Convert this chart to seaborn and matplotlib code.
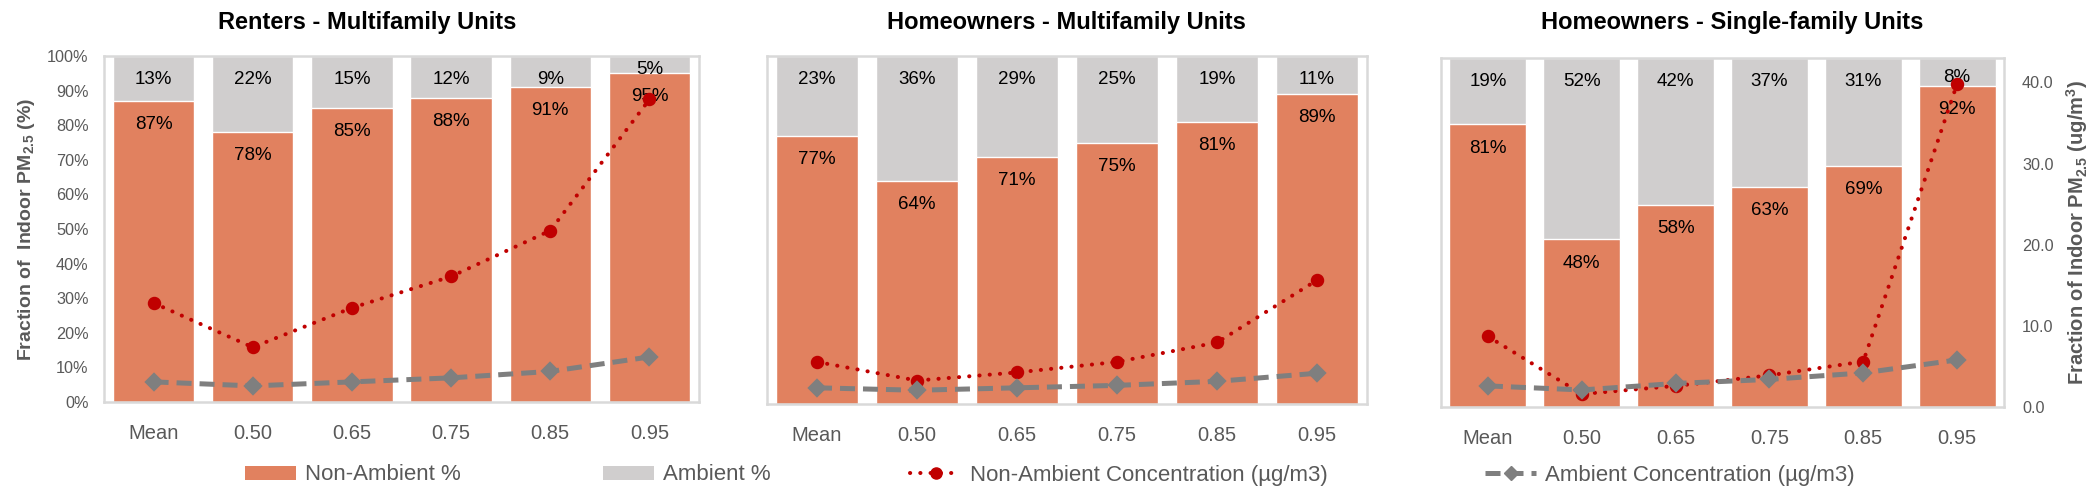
import numpy as np
import pandas as pd
import matplotlib
matplotlib.use("Agg")
import matplotlib.pyplot as plt
from matplotlib.patches import Patch
from matplotlib.lines import Line2D
import seaborn as sns

# ---- data ----
quantiles = ["Mean", "0.50", "0.65", "0.75", "0.85", "0.95"]
titles = ["Renters - Multifamily Units",
          "Homeowners - Multifamily Units",
          "Homeowners - Single-family Units"]

renters_mf_nonamb = [87, 78, 85, 88, 91, 95]
renters_mf_amb = [13, 22, 15, 12, 9, 5]
renters_mf_nonamb_conc = [12.3, 6.8, 11.7, 15.6, 21.3, 37.6]
renters_mf_amb_conc = [2.5, 2.0, 2.5, 3.0, 3.8, 5.6]

owners_mf_nonamb = [77, 64, 71, 75, 81, 89]
owners_mf_amb = [23, 36, 29, 25, 19, 11]
owners_mf_nonamb_conc = [5.2, 2.9, 3.9, 5.2, 7.6, 15.3]
owners_mf_amb_conc = [2.0, 1.7, 2.0, 2.3, 2.8, 3.8]

owners_sf_nonamb = [81, 48, 58, 63, 69, 92]
owners_sf_amb = [19, 52, 42, 37, 31, 8]
owners_sf_nonamb_conc = [8.7, 1.6, 2.6, 3.9, 5.6, 39.8]
owners_sf_amb_conc = [2.6, 2.1, 2.9, 3.4, 4.2, 5.8]

panels = [
    (renters_mf_nonamb, renters_mf_amb, renters_mf_nonamb_conc, renters_mf_amb_conc),
    (owners_mf_nonamb, owners_mf_amb, owners_mf_nonamb_conc, owners_mf_amb_conc),
    (owners_sf_nonamb, owners_sf_amb, owners_sf_nonamb_conc, owners_sf_amb_conc),
]

ORANGE = "#E1815F"
GRAY = "#D0CECE"
RED = "#C00000"
DGRAY = "#7F7F7F"
FRAME = "#D9D9D9"
TXT = "#595959"

RED_DASH = (0.05, 2.5)
GRAY_DASH = (3.0, 1.6)

sns.set_style("white")
plt.rcParams["font.family"] = ["Liberation Sans", "DejaVu Sans"]
plt.rcParams["mathtext.default"] = "regular"

fig = plt.figure(figsize=(21, 4.96), dpi=100)

# axes boxes in pixels: left, top, right, bottom
boxes = [(104, 56, 699, 402), (767, 56, 1367, 404), (1441, 58, 2004, 407)]
title_x = [367, 1066, 1732]
W, H = 2100, 496

for i, (nonamb, amb, nonamb_conc, amb_conc) in enumerate(panels):
    l, t, r, b = boxes[i]
    ax = fig.add_axes([l / W, 1 - b / H, (r - l) / W, (b - t) / H])
    df = pd.DataFrame({"q": quantiles, "nonamb": nonamb, "amb": amb,
                       "total": np.array(nonamb) + np.array(amb)})

    sns.barplot(data=df, x="q", y="total", color=GRAY, width=0.82,
                saturation=1, ax=ax)
    sns.barplot(data=df, x="q", y="nonamb", color=ORANGE, width=0.82,
                saturation=1, ax=ax)

    # value labels
    for j, (na, a) in enumerate(zip(nonamb, amb)):
        top = na + a
        ya = top - 6.8 if a >= 9 else top - a / 2 - 1.5
        ax.text(j, ya, f"{a}%", ha="center", va="center", fontsize=13.5, color="black", zorder=5)
        ax.text(j, na - 6.8, f"{na}%", ha="center", va="center", fontsize=13.5, color="black", zorder=5)

    ax.set_ylim(0, 100)
    ax.set_xlim(-0.5, 5.5)
    ax.set_xlabel("")
    ax.set_ylabel("")
    for s in ax.spines.values():
        s.set_color(FRAME)
        s.set_linewidth(1.8)
    ax.tick_params(axis="x", length=0, pad=16, labelsize=14.5, labelcolor=TXT)
    if i == 0:
        ax.set_yticks(np.arange(0, 101, 10))
        ax.set_yticklabels([f"{v}%" for v in range(0, 101, 10)])
        ax.tick_params(axis="y", length=0, pad=11, labelsize=11.7, labelcolor=TXT)
    else:
        ax.set_yticks([])

    tw = ax.twinx()
    sns.pointplot(x=quantiles, y=nonamb_conc, ax=tw, color=RED, markers="o",
                  linestyles=":", errorbar=None, markersize=7.5, linewidth=2.9)
    sns.pointplot(x=quantiles, y=amb_conc, ax=tw, color=DGRAY, markers="D",
                  linestyles="--", errorbar=None, markersize=7.5, linewidth=3.6)
    lines = tw.get_lines()
    lines[0].set_dashes(RED_DASH)
    lines[0].set_dash_capstyle("round")
    lines[1].set_dashes(GRAY_DASH)
    tw.set_ylim(0, 43)
    tw.set_xlim(-0.5, 5.5)
    tw.set_xlabel("")
    tw.set_ylabel("")
    for s in tw.spines.values():
        s.set_visible(False)
    if i == 2:
        tw.set_yticks([0, 10, 20, 30, 40])
        tw.set_yticklabels([f"{v:.1f}" for v in [0, 10, 20, 30, 40]])
        tw.tick_params(axis="y", length=0, pad=13, labelsize=11.7, labelcolor=TXT)
    else:
        tw.set_yticks([])

    ax.set_xticks(range(len(quantiles)))
    ax.set_xticklabels(quantiles)

    fig.text(title_x[i] / W, 1 - 23 / H, titles[i], ha="center", va="center",
             fontsize=17, fontweight="bold", color="black")

fig.text(27 / W, 1 - 229 / H, "Fraction of  Indoor PM$_{2.5}$ (%)", rotation=90,
         ha="center", va="center", fontsize=14, fontweight="bold", color=TXT)
fig.text(2077 / W, 1 - 233 / H, "Fraction of Indoor PM$_{2.5}$ (ug/m$^{3}$)", rotation=90,
         ha="center", va="center", fontsize=14.5, fontweight="bold", color=TXT)

handles = [
    Patch(facecolor=ORANGE, edgecolor="none"),
    Patch(facecolor=GRAY, edgecolor="none"),
    Line2D([], [], color=RED, linestyle=(0, RED_DASH), dash_capstyle="round",
           linewidth=2.9, marker="o", markersize=8),
    Line2D([], [], color=DGRAY, linestyle=(0, GRAY_DASH), linewidth=3.6,
           marker="D", markersize=7.5),
]
labels = ["Non-Ambient %", "Ambient %",
          "Non-Ambient Concentration (\u00b5g/m3)", "Ambient Concentration (\u00b5g/m3)"]
legend_x = [245, 603, 910, 1485]
for h, lab, lx in zip(handles, labels, legend_x):
    leg = fig.legend([h], [lab], loc="center left", bbox_to_anchor=(lx / W, 1 - 475 / H),
                     frameon=False, fontsize=16, borderpad=0, borderaxespad=0,
                     handlelength=2.3, handleheight=0.6, handletextpad=0.4)
    for txt in leg.get_texts():
        txt.set_color(TXT)

fig.savefig("out.png", dpi=100)
